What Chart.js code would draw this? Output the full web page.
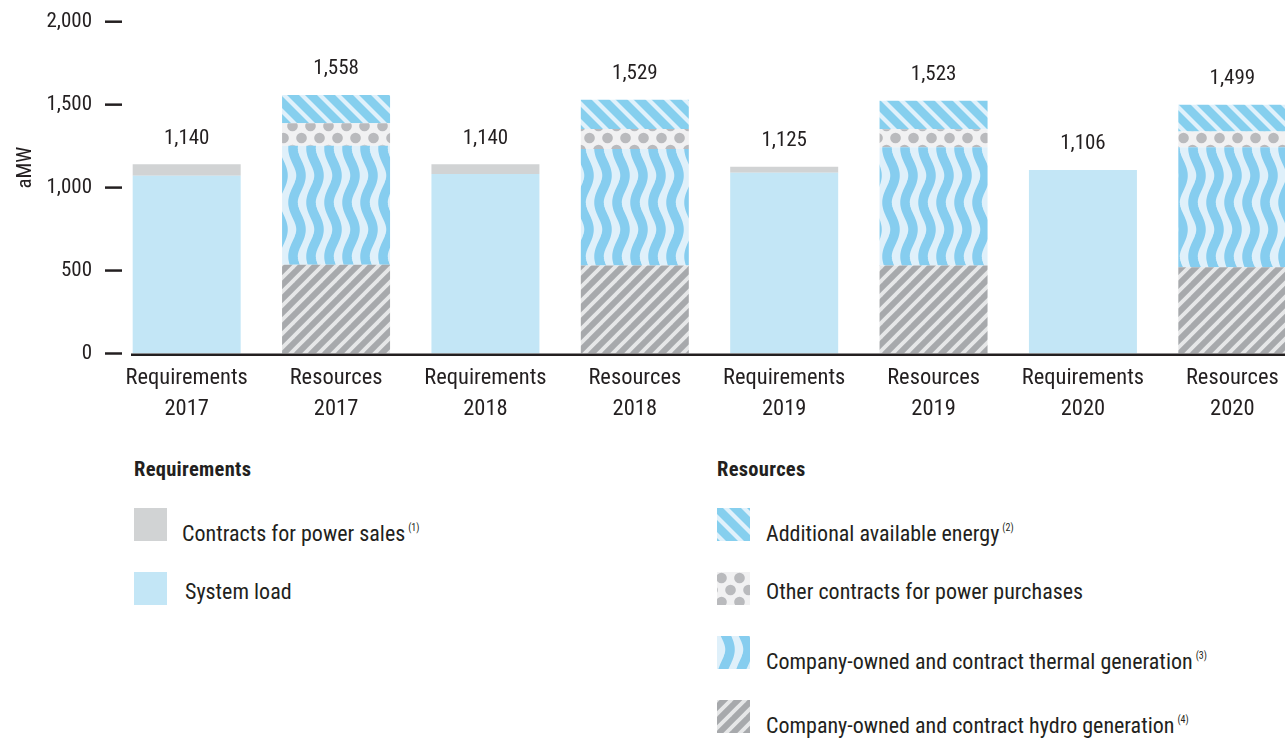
<!DOCTYPE html>
<html>
<head>
<meta charset="utf-8">
<script src="https://cdn.jsdelivr.net/npm/chart.js@4.4.1/dist/chart.umd.min.js"></script>
<style>
    html, body { margin: 0; padding: 0; width: 1285px; height: 738px; overflow: hidden; background: #fff; }
    body { position: relative; color: #231f20; font-family: "Liberation Sans Narrow", "Roboto Condensed", "DejaVu Sans Condensed", "Arial Narrow", sans-serif; }
    #chartBox { position: absolute; left: 0; top: 0; width: 1310px; height: 440px; }
    .legend-head { position: absolute; font-size: 20.5px; line-height: 20px; font-weight: bold; letter-spacing: 0.3px; }
    .swatch { position: absolute; width: 33px; height: 33px; }
    .legend-text { position: absolute; font-size: 22px; line-height: 22px; white-space: nowrap; }
    .legend-text sup { font-size: 10px; vertical-align: 10px; margin-left: 3px; }
</style>
</head>
<body>

<div id="chartBox"><canvas id="resourcesChart"></canvas></div>

<div class="legend-head" style="left:134px; top:459px;">Requirements</div>
<canvas class="swatch" data-fill="sales" width="33" height="33" style="left:134px; top:508px;"></canvas>
<div class="legend-text" style="left:182px; top:517px;">Contracts for power sales<sup>(1)</sup></div>
<canvas class="swatch" data-fill="load" width="33" height="33" style="left:134px; top:572px;"></canvas>
<div class="legend-text" style="left:185px; top:581px;">System load</div>

<div class="legend-head" style="left:717px; top:459px;">Resources</div>
<canvas class="swatch" data-fill="additional" width="33" height="33" style="left:717px; top:508px;"></canvas>
<div class="legend-text" style="left:766px; top:517px;">Additional available energy<sup>(2)</sup></div>
<canvas class="swatch" data-fill="dots" width="33" height="33" style="left:717px; top:572px;"></canvas>
<div class="legend-text" style="left:766px; top:581px;">Other contracts for power purchases</div>
<canvas class="swatch" data-fill="waves" width="33" height="33" style="left:717px; top:636px;"></canvas>
<div class="legend-text" style="left:766px; top:645px;">Company-owned and contract thermal generation<sup>(3)</sup></div>
<canvas class="swatch" data-fill="hydro" width="33" height="33" style="left:717px; top:700px;"></canvas>
<div class="legend-text" style="left:766px; top:709px;">Company-owned and contract hydro generation<sup>(4)</sup></div>

<script>
"use strict";

/** DATA (aMW) */
const YEARS = ['2017', '2018', '2019', '2020'];

// Requirements
const SYSTEM_LOAD = [1072, 1082, 1090, 1106];
const POWER_SALES = [68, 58, 35, 0];
const REQUIREMENT_TOTALS = [1140, 1140, 1125, 1106];

// Resources
const HYDRO = [535, 530, 530, 520];
const THERMAL = [718, 703, 713, 723];
const OTHER_PURCHASES = [135, 120, 108, 95];
const ADDITIONAL_ENERGY = [170, 176, 172, 161];
const RESOURCE_TOTALS = [1558, 1529, 1523, 1499];

const Y_TICKS = [0, 500, 1000, 1500, 2000];

const INK = '#231f20';
const FONT = '"Liberation Sans Narrow", "Roboto Condensed", "DejaVu Sans Condensed", "Arial Narrow", sans-serif';

// Each year gets a Requirements bar followed by a Resources bar
const LABELS = YEARS.flatMap(year => [['Requirements', year], ['Resources', year]]);
const asRequirement = values => values.flatMap(v => [v, null]);
const asResource = values => values.flatMap(v => [null, v]);
const TOTALS = YEARS.flatMap((_, i) => [REQUIREMENT_TOTALS[i], RESOURCE_TOTALS[i]]);


/** FILL PATTERNS */

const makeTile = (w, h, paint) => {
    const tile = document.createElement('canvas');
    tile.width = w;
    tile.height = h;
    paint(tile.getContext('2d'), w, h);
    return tile;
}

const TILES = {
    // blue "\" stripes
    additional: makeTile(18, 18, (g, w, h) => {
        g.fillStyle = '#e0f1fb';
        g.fillRect(0, 0, w, h);
        g.strokeStyle = '#86cfee';
        g.lineWidth = 8.5;
        for (const k of [-w, 0, w]) {
            g.beginPath();
            g.moveTo(k - 3, -3);
            g.lineTo(k + w + 3, h + 3);
            g.stroke();
        }
    }),
    // grey dots on pale grey
    dots: makeTile(18, 24, (g, w, h) => {
        g.fillStyle = '#f1f1f2';
        g.fillRect(0, 0, w, h);
        g.fillStyle = '#b9babd';
        for (const [cx, cy] of [[4.5, 6], [13.5, 18]]) {
            for (const dx of [-w, 0, w]) for (const dy of [-h, 0, h]) {
                g.beginPath();
                g.arc(cx + dx, cy + dy, 5.3, 0, Math.PI * 2);
                g.fill();
            }
        }
    }),
    // vertical blue waves
    waves: makeTile(18, 54, (g, w, h) => {
        g.fillStyle = '#dff0fa';
        g.fillRect(0, 0, w, h);
        g.strokeStyle = '#86cdef';
        g.lineWidth = 9.5;
        g.beginPath();
        for (let y = -4; y <= h + 4; y += 1) {
            const x = w / 2 + 4 * Math.sin(2 * Math.PI * y / h);
            y === -4 ? g.moveTo(x, y) : g.lineTo(x, y);
        }
        g.stroke();
    }),
    // grey with light "/" stripes
    hydro: makeTile(14, 14, (g, w, h) => {
        g.fillStyle = '#a7a9ac';
        g.fillRect(0, 0, w, h);
        g.strokeStyle = '#e6e7e8';
        g.lineWidth = 3.8;
        for (const k of [-w, 0, w]) {
            g.beginPath();
            g.moveTo(k - 3, h + 3);
            g.lineTo(k + w + 3, -3);
            g.stroke();
        }
    })
}

const SOLIDS = { sales: '#d1d3d4', load: '#c3e6f6' };

const fillFor = (ctx, key) => SOLIDS[key] || ctx.createPattern(TILES[key], 'repeat');


/** DECORATIONS: tick dashes, baseline, totals, axis title */

const axisDecor = {
    id: 'axisDecor',
    afterDatasetsDraw(chart) {
        const { ctx, chartArea, scales: { x, y } } = chart;
        ctx.save();

        // Y tick dashes
        ctx.strokeStyle = INK;
        ctx.lineWidth = 2.5;
        Y_TICKS.forEach(v => {
            const py = y.getPixelForValue(v);
            ctx.beginPath();
            ctx.moveTo(chartArea.left - 7, py);
            ctx.lineTo(chartArea.left + 10, py);
            ctx.stroke();
        });

        // Baseline
        const base = y.getPixelForValue(0) + 1.2;
        ctx.beginPath();
        ctx.moveTo(chartArea.left + 19, base);
        ctx.lineTo(chartArea.right, base);
        ctx.stroke();

        // Stack totals
        ctx.fillStyle = INK;
        ctx.font = `21px ${FONT}`;
        ctx.textAlign = 'center';
        ctx.textBaseline = 'middle';
        TOTALS.forEach((total, i) => {
            ctx.fillText(total.toLocaleString('en-US'), x.getPixelForValue(i), y.getPixelForValue(total) - 26);
        });

        // Y axis title
        ctx.translate(26, (chartArea.top + chartArea.bottom) / 2 - 20);
        ctx.rotate(-Math.PI / 2);
        ctx.font = `21px ${FONT}`;
        ctx.fillText('aMW', 0, 0);

        ctx.restore();
    }
}


/** CHART */

const canvas = document.getElementById('resourcesChart');
const chartCtx = canvas.getContext('2d');

new Chart(chartCtx, {
    type: 'bar',
    data: {
        labels: LABELS,
        datasets: [
            { label: 'System load', data: asRequirement(SYSTEM_LOAD), backgroundColor: fillFor(chartCtx, 'load') },
            { label: 'Contracts for power sales', data: asRequirement(POWER_SALES), backgroundColor: fillFor(chartCtx, 'sales') },
            { label: 'Company-owned and contract hydro generation', data: asResource(HYDRO), backgroundColor: fillFor(chartCtx, 'hydro') },
            { label: 'Company-owned and contract thermal generation', data: asResource(THERMAL), backgroundColor: fillFor(chartCtx, 'waves') },
            { label: 'Other contracts for power purchases', data: asResource(OTHER_PURCHASES), backgroundColor: fillFor(chartCtx, 'dots') },
            { label: 'Additional available energy', data: asResource(ADDITIONAL_ENERGY), backgroundColor: fillFor(chartCtx, 'additional') }
        ]
    },
    options: {
        responsive: true,
        maintainAspectRatio: false,
        animation: false,
        layout: {
            padding: { top: 21.7, right: 3, bottom: 0, left: 0 }
        },
        datasets: {
            bar: { barPercentage: 0.723, categoryPercentage: 1, borderWidth: 0, stack: 'all' }
        },
        plugins: {
            legend: { display: false },
            tooltip: { enabled: false }
        },
        scales: {
            x: {
                stacked: true,
                grid: { display: false },
                border: { display: false },
                ticks: {
                    color: INK,
                    font: { family: FONT, size: 22.5, lineHeight: 1.38 },
                    padding: 1,
                    maxRotation: 0,
                    autoSkip: false
                },
                afterFit: scale => { scale.height = 86.5; }
            },
            y: {
                stacked: true,
                min: 0,
                max: 2000,
                grid: { display: false },
                border: { display: false },
                afterBuildTicks: scale => { scale.ticks = Y_TICKS.map(value => ({ value })); },
                ticks: {
                    color: INK,
                    font: { family: FONT, size: 21 },
                    padding: 12,
                    callback: v => v.toLocaleString('en-US')
                },
                afterFit: scale => {
                    scale.width = 112;
                    scale.paddingTop = 0;
                    scale.paddingBottom = 0;
                }
            }
        }
    },
    plugins: [axisDecor]
});

// Legend swatches
document.querySelectorAll('canvas.swatch').forEach(sw => {
    const g = sw.getContext('2d');
    g.fillStyle = fillFor(g, sw.dataset.fill);
    g.fillRect(0, 0, sw.width, sw.height);
});
</script>
</body>
</html>
